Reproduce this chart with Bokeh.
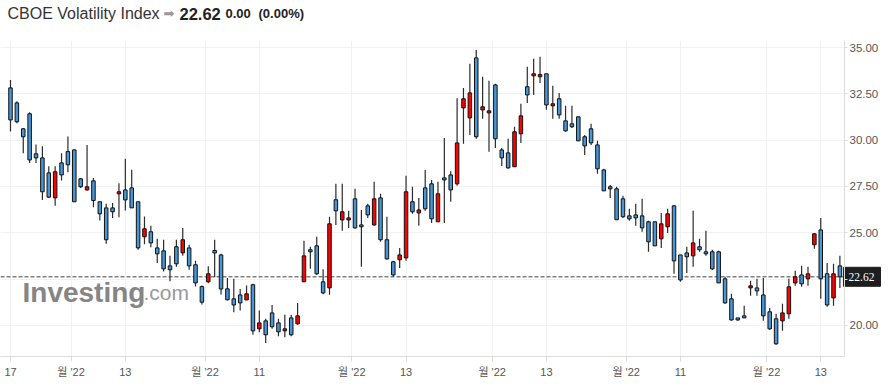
from bokeh.plotting import figure
from bokeh.models import ColumnDataSource, FixedTicker, Label, NumeralTickFormatter
from bokeh.embed import file_html
from bokeh.resources import INLINE

title_text = "CBOE Volatility Index"
last_price = 22.62
change = 0.00
change_pct = 0.00

opens = [32.82, 32.01, 30.61, 31.42, 29.26, 29.04, 28.23, 26.88, 28.77, 29.38,
         29.47, 27.91, 27.31, 27.80, 26.67, 26.34, 26.34, 27.10, 27.31, 27.42,
         26.67, 24.78, 25.05, 24.18, 24.02, 23.21, 24.24, 23.91, 24.18, 23.27,
         22.09, 22.35, 24.04, 23.80, 21.97, 21.43, 21.64, 21.37, 22.19, 19.81,
         20.24, 20.67, 20.13, 19.70, 20.40, 20.08, 22.35, 24.08, 24.29, 22.35,
         22.02, 26.78, 25.69, 25.69, 26.83, 25.42, 26.45, 25.42, 26.88, 24.62,
         23.43, 23.54, 23.64, 26.67, 26.07, 27.42, 27.64, 25.59, 27.96, 28.12,
         27.64, 31.74, 31.20, 34.44, 31.63, 31.47, 32.98, 29.47, 29.31, 28.56,
         30.34, 32.88, 33.47, 33.42, 33.58, 31.85, 32.23, 31.04, 30.88, 31.26,
         30.18, 30.61, 29.74, 28.39, 27.48, 27.37, 26.83, 25.91, 25.96, 25.91,
         25.59, 25.59, 24.67, 25.32, 26.45, 23.80, 23.91, 23.75, 24.24, 23.97,
         23.97, 23.97, 22.51, 21.43, 20.40, 20.51, 22.02, 22.02, 21.64, 20.73,
         20.35, 20.24, 20.62, 22.29, 22.72, 22.51, 24.35, 25.15, 22.78, 21.48,
         23.21]

highs = [33.25, 32.10, 30.66, 31.51, 29.76, 29.67, 28.59, 28.59, 29.29, 30.19,
         29.49, 27.96, 29.74, 27.96, 26.67, 26.56, 26.60, 27.67, 28.99, 28.40,
         26.67, 25.87, 25.37, 24.67, 24.62, 23.75, 24.62, 25.26, 24.35, 23.48,
         22.15, 23.19, 24.62, 23.86, 22.56, 22.51, 21.96, 22.15, 22.24, 20.80,
         20.35, 21.10, 20.35, 20.57, 20.57, 21.21, 24.56, 24.24, 24.78, 23.03,
         25.86, 27.64, 27.64, 26.18, 27.37, 26.23, 26.56, 27.75, 27.10, 25.86,
         23.48, 24.18, 28.07, 27.48, 26.88, 28.39, 27.85, 27.75, 30.12, 28.32,
         32.26, 32.82, 34.12, 34.87, 33.42, 33.20, 33.04, 29.58, 30.07, 30.72,
         31.96, 33.96, 34.39, 34.50, 33.58, 32.93, 32.55, 31.85, 31.85, 31.26,
         30.28, 30.88, 29.96, 28.45, 27.58, 27.48, 26.99, 26.29, 26.56, 26.83,
         25.64, 25.59, 26.07, 26.29, 26.50, 23.80, 24.24, 26.18, 24.67, 25.10,
         24.08, 24.02, 22.62, 21.70, 20.40, 21.05, 22.40, 22.51, 22.56, 20.94,
         20.62, 21.16, 22.51, 22.94, 23.21, 23.16, 24.99, 25.80, 23.37, 23.32,
         23.75]

lows = [30.46, 30.91, 29.29, 28.76, 28.76, 26.77, 26.87, 26.45, 27.82, 28.27,
        26.67, 27.42, 27.26, 26.38, 25.66, 24.40, 25.79, 25.84, 26.20, 26.34,
        24.08, 24.38, 24.22, 23.37, 22.91, 22.38, 23.16, 23.75, 23.00, 22.10,
        21.12, 22.27, 22.60, 21.66, 21.34, 20.71, 20.80, 21.37, 19.49, 19.63,
        19.05, 19.81, 19.41, 19.36, 19.41, 20.03, 22.35, 23.05, 22.73, 21.68,
        21.65, 25.42, 25.10, 25.26, 25.21, 23.16, 25.80, 25.37, 24.51, 23.54,
        22.62, 23.10, 23.48, 26.02, 25.37, 26.18, 25.53, 25.59, 25.53, 26.67,
        27.53, 29.80, 30.28, 30.07, 31.15, 29.37, 29.58, 28.60, 28.45, 28.56,
        29.85, 32.01, 32.44, 33.09, 31.64, 31.15, 31.15, 30.45, 30.66, 29.96,
        29.20, 29.74, 28.18, 27.26, 26.88, 25.70, 25.80, 25.64, 25.37, 25.05,
        23.97, 24.29, 24.18, 24.99, 22.78, 22.35, 22.83, 23.16, 23.97, 23.75,
        22.99, 22.29, 21.16, 20.24, 20.24, 20.40, 21.59, 21.59, 20.24, 19.76,
        18.95, 19.70, 20.35, 22.13, 22.08, 22.13, 24.13, 21.43, 21.00, 21.05,
        22.02]

closes = [31.09, 30.99, 30.18, 28.93, 29.04, 27.21, 26.92, 28.29, 28.12, 28.67,
          26.67, 27.48, 27.48, 26.74, 26.02, 24.62, 26.13, 27.21, 26.77, 26.34,
          24.18, 25.21, 24.45, 23.86, 23.05, 23.00, 23.32, 24.62, 23.21, 22.29,
          21.25, 22.78, 23.91, 21.96, 21.38, 21.10, 21.21, 21.70, 19.70, 20.13,
          19.49, 19.92, 19.65, 19.81, 19.49, 20.51, 23.75, 23.97, 22.78, 21.75,
          25.48, 26.18, 26.13, 25.80, 25.26, 25.32, 25.96, 26.83, 24.62, 23.59,
          22.72, 23.80, 27.21, 26.13, 26.23, 26.29, 25.75, 27.10, 27.85, 27.31,
          29.85, 32.23, 32.55, 30.18, 31.80, 31.58, 30.07, 29.04, 28.50, 30.45,
          31.31, 32.44, 33.58, 33.54, 31.90, 31.96, 31.36, 30.50, 30.72, 29.96,
          29.69, 29.85, 28.45, 27.26, 27.37, 25.70, 25.86, 25.75, 25.80, 25.26,
          24.51, 24.29, 25.48, 26.02, 23.48, 22.45, 23.70, 24.45, 24.08, 23.86,
          23.05, 22.29, 21.21, 20.29, 20.29, 20.40, 22.13, 21.86, 20.51, 19.81,
          19.00, 20.67, 22.08, 22.62, 22.24, 22.78, 24.94, 22.51, 21.10, 22.78,
          22.62]

x_tick_positions = [0, 9.5, 18, 30.5, 39, 53.5, 62, 75.5, 84, 96.5, 105, 118.5, 127]
x_tick_labels = ["17", "월 '22", "13", "월 '22", "11", "월 '22", "13",
                 "월 '22", "13", "월 '22", "11", "월 '22", "13"]
y_ticks = [20, 22.5, 25, 27.5, 30, 32.5, 35]

UP = "#ff0000"
DOWN = "#4697d8"

# view geometry (index units / price units)
X_START, X_END = -1.567, 137.775
Y_START, Y_END = 18.316, 37.538
X_AXIS_AT = 130.72      # right price axis position
PLOT_TOP = 35.378       # top of the price pane
BOX_L, BOX_R = 130.56, 136.36
BOX_HALF = 0.513

idx = list(range(len(opens)))
src = ColumnDataSource(dict(
    x=idx,
    top=[max(o, c) for o, c in zip(opens, closes)],
    bottom=[min(o, c) for o, c in zip(opens, closes)],
    high=highs, low=lows,
    color=[UP if c > o else DOWN for o, c in zip(opens, closes)],
))

p = figure(width=889, height=391,
           x_range=(X_START, X_END), y_range=(Y_START, Y_END),
           y_axis_location="right", output_backend="svg", toolbar_location=None,
           min_border_left=0, min_border_right=0, min_border_top=0, min_border_bottom=35)
p.outline_line_color = None
p.background_fill_color = "white"
p.border_fill_color = "white"

# watermark
p.add_layout(Label(x=22, y=64, x_units="screen", y_units="screen", text="Investing",
                   text_font="Liberation Sans", text_font_style="bold", text_font_size="28px",
                   text_color="#858585", text_baseline="alphabetic", level="underlay"))
p.add_layout(Label(x=143, y=64, x_units="screen", y_units="screen", text=".com",
                   text_font="Liberation Sans", text_font_size="21px",
                   text_color="#999999", text_baseline="alphabetic", level="underlay"))

# last price dashed line
p.segment(x0=[X_START], x1=[BOX_L], y0=[last_price], y1=[last_price],
          line_color="#808080", line_dash="4 2", line_width=1.5)

# candles
p.segment(x0="x", y0="low", x1="x", y1="high", source=src, line_color="#2b2b2b", line_width=1.2)
p.vbar(x="x", width=0.55, top="top", bottom="bottom", fill_color="color",
       line_color="#111111", line_width=1, source=src)

xa = p.xaxis[0]
xa.ticker = FixedTicker(ticks=x_tick_positions)
xa.major_label_overrides = {pos: lab for pos, lab in zip(x_tick_positions, x_tick_labels)}
xa.bounds = (X_START, X_AXIS_AT)
xa.axis_line_color = "#dcdcdc"
xa.major_tick_line_color = "#dcdcdc"
xa.major_tick_out = 5
xa.major_tick_in = 0
xa.minor_tick_line_color = None
xa.major_label_text_font = "Liberation Sans, Noto Sans CJK KR"
xa.major_label_text_font_size = "11px"
xa.major_label_text_color = "#555555"
xa.major_label_standoff = 4

ya = p.yaxis[0]
ya.fixed_location = X_AXIS_AT
ya.bounds = (Y_START, PLOT_TOP)
ya.ticker = FixedTicker(ticks=y_ticks)
ya.formatter = NumeralTickFormatter(format="0.00")
ya.major_label_overrides = {22.5: ""}
ya.axis_line_color = "#dcdcdc"
ya.major_tick_line_color = "#dcdcdc"
ya.major_tick_out = 3
ya.major_tick_in = 0
ya.minor_tick_line_color = None
ya.major_label_text_font = "Liberation Sans"
ya.major_label_text_font_size = "11.5px"
ya.major_label_text_color = "#555555"
ya.major_label_standoff = 2

p.xgrid.grid_line_color = "#f1f1f1"
p.ygrid.grid_line_color = "#f1f1f1"
p.xgrid.cross_bounds = (Y_START, PLOT_TOP)
p.ygrid.cross_bounds = (X_START, X_AXIS_AT)

# last price tag on the axis
p.quad(left=[BOX_L], right=[BOX_R], bottom=[last_price - BOX_HALF], top=[last_price + BOX_HALF],
       fill_color="#1e1e1e", line_color="#1e1e1e")
p.text(x=[BOX_L + 0.8], y=[last_price], text=[f"{last_price:.2f}"], text_color="white",
       text_font="Liberation Sans", text_font_size="11.5px", text_baseline="middle")

# header
p.add_layout(Label(x=7, y=343, x_units="screen", y_units="screen", text=title_text,
                   text_font="Liberation Sans", text_font_size="16px", text_color="#333333",
                   text_baseline="alphabetic"))
p.add_layout(Label(x=163, y=343, x_units="screen", y_units="screen", text="➡",
                   text_font="DejaVu Sans", text_font_size="13px", text_color="#999999",
                   text_baseline="alphabetic"))
p.add_layout(Label(x=179, y=343, x_units="screen", y_units="screen", text=f"{last_price:.2f}",
                   text_font="Liberation Sans", text_font_style="bold", text_font_size="16.5px",
                   text_color="#222222", text_baseline="alphabetic"))
p.add_layout(Label(x=225, y=343, x_units="screen", y_units="screen", text=f"{change:.2f}",
                   text_font="Liberation Sans", text_font_style="bold", text_font_size="13px",
                   text_color="#222222", text_baseline="alphabetic"))
p.add_layout(Label(x=258, y=343, x_units="screen", y_units="screen", text=f"({change_pct:.2f}%)",
                   text_font="Liberation Sans", text_font_style="bold", text_font_size="13px",
                   text_color="#222222", text_baseline="alphabetic"))

open("out.html", "w").write(file_html(p, INLINE))
